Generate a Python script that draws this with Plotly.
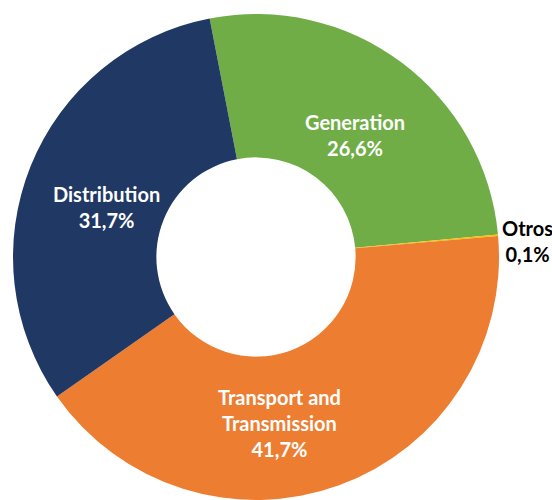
import plotly.graph_objects as go

labels = ["Generation", "Otros", "Transport and Transmission", "Distribution"]
values = [26.6, 0.1, 41.7, 31.7]
value_text = ["26,6%", "0,1%", "41,7%", "31,7%"]
display_names = ["Generation", "Otros", "Transport and<br>Transmission", "Distribution"]
colors = ["#70AD47", "#FFC000", "#ED7D31", "#203864"]

# label anchor positions (page pixels) and text colours
label_px = [(355, 135), (527, 241), (279, 423), (106, 207)]
label_colors = ["white", "black", "white", "white"]

W, H = 552, 500

fig = go.Figure(
    go.Pie(
        labels=labels,
        values=values,
        sort=False,
        direction="clockwise",
        rotation=-11,
        hole=0.41,
        marker=dict(colors=colors, line=dict(width=0)),
        textinfo="none",
        hoverinfo="label+percent",
        domain=dict(x=[13 / W, 499 / W], y=[0, 1 - 14 / H]),
    )
)

annotations = []
for name, vt, (px, py), col in zip(display_names, value_text, label_px, label_colors):
    annotations.append(
        dict(
            text=f"{name}<br>{vt}",
            x=px / W,
            y=1 - py / H,
            xref="paper",
            yref="paper",
            xanchor="center",
            yanchor="middle",
            showarrow=False,
            align="center",
            font=dict(family="Lato", size=20, color=col, weight="bold"),
        )
    )

fig.update_layout(
    width=W,
    height=H,
    margin=dict(l=0, r=0, t=0, b=0),
    paper_bgcolor="white",
    plot_bgcolor="white",
    showlegend=False,
    annotations=annotations,
)

fig.write_html(
    "out.html",
    config={"displayModeBar": False},
    post_script="document.body.style.margin='0';document.body.style.overflow='hidden';",
)
